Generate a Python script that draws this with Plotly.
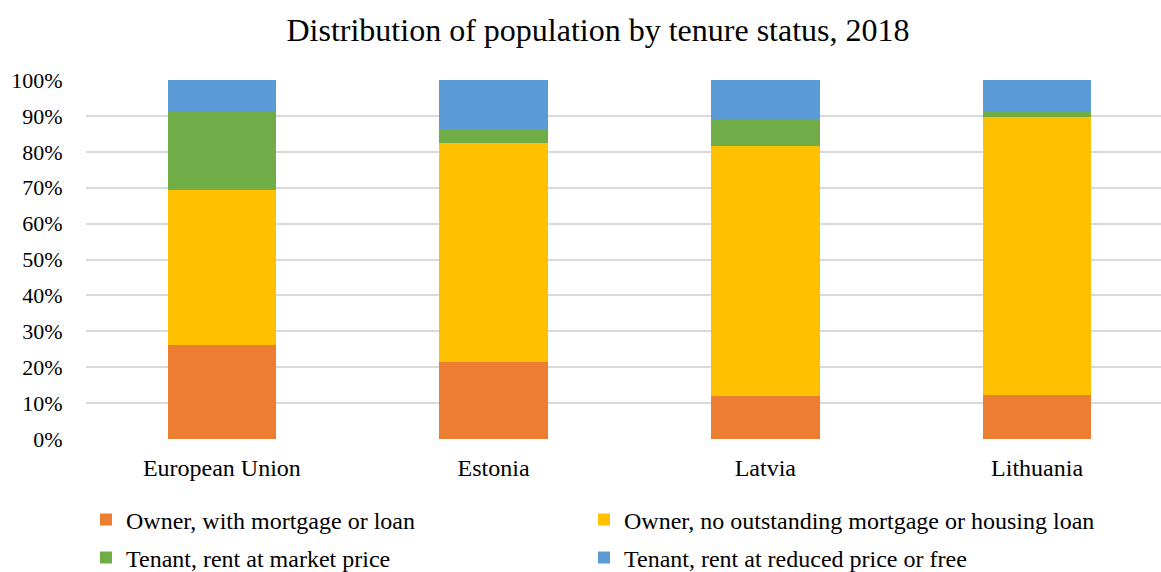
import plotly.graph_objects as go

countries = ["European Union", "Estonia", "Latvia", "Lithuania"]
series_names = [
    "Owner, with mortgage or loan",
    "Owner, no outstanding mortgage or housing loan",
    "Tenant, rent at market price",
    "Tenant, rent at reduced price or free",
]
owner_mortgage = [26.3, 21.4, 12.0, 12.2]
owner_no_mortgage = [43.0, 61.0, 69.5, 77.6]
tenant_market = [21.9, 3.9, 7.5, 1.3]
tenant_reduced = [8.8, 13.7, 11.0, 8.9]
colors = ["#ED7D31", "#FFC000", "#70AD47", "#5B9BD5"]
y_ticks = [0, 10, 20, 30, 40, 50, 60, 70, 80, 90, 100]
y_tick_labels = [f"{v}%" for v in y_ticks]

values = [owner_mortgage, owner_no_mortgage, tenant_market, tenant_reduced]
legend_ids = ["legend", "legend2", "legend3", "legend4"]
# legend item anchor positions (px, in the page)
legend_x_px = [86, 584, 86, 584]
legend_y_px = [520, 520, 558, 558]

FONT = "Liberation Serif"

fig = go.Figure()
for name, vals, col, lg in zip(series_names, values, colors, legend_ids):
    fig.add_trace(go.Bar(
        x=countries, y=vals, name=name, marker_color=col,
        marker_line_width=0, legend=lg, showlegend=True,
    ))

W, H = 1161, 572
legend_layout = {}
for lg, lx, ly in zip(legend_ids, legend_x_px, legend_y_px):
    legend_layout[lg] = dict(
        orientation="h", xanchor="left", yanchor="middle",
        xref="container", yref="container",
        x=lx / W, y=1 - ly / H,
        font=dict(family=FONT, size=24, color="#000000"),
        bgcolor="rgba(0,0,0,0)", borderwidth=0,
        itemclick=False,
    )

fig.update_layout(
    width=W, height=H, showlegend=True,
    barmode="stack", bargap=0.6,
    paper_bgcolor="white", plot_bgcolor="white",
    margin=dict(l=86, r=0, t=80, b=133),
    title=dict(text="Distribution of population by tenure status, 2018",
               x=598 / W, xref="container", xanchor="center",
               y=1 - 30 / H, yref="container", yanchor="middle",
               font=dict(family=FONT, size=32, color="#000000")),
    font=dict(family=FONT, color="#000000"),
    xaxis=dict(range=[-0.5, 3.456], showgrid=False, showline=False,
               ticks="outside", ticklen=7, tickcolor="rgba(0,0,0,0)",
               tickfont=dict(family=FONT, size=24, color="#000000")),
    yaxis=dict(range=[0, 100], tickvals=y_ticks, ticktext=y_tick_labels,
               showgrid=True, gridcolor="#D9D9D9", gridwidth=1.5,
               zeroline=False, showline=False,
               ticks="outside", ticklen=18, tickcolor="rgba(0,0,0,0)",
               tickfont=dict(family=FONT, size=22, color="#000000")),
    **legend_layout,
)

fig.write_html(
    "out.html",
    config={"displayModeBar": False},
    post_script="document.body.style.margin='0';document.body.style.overflow='hidden';",
)
